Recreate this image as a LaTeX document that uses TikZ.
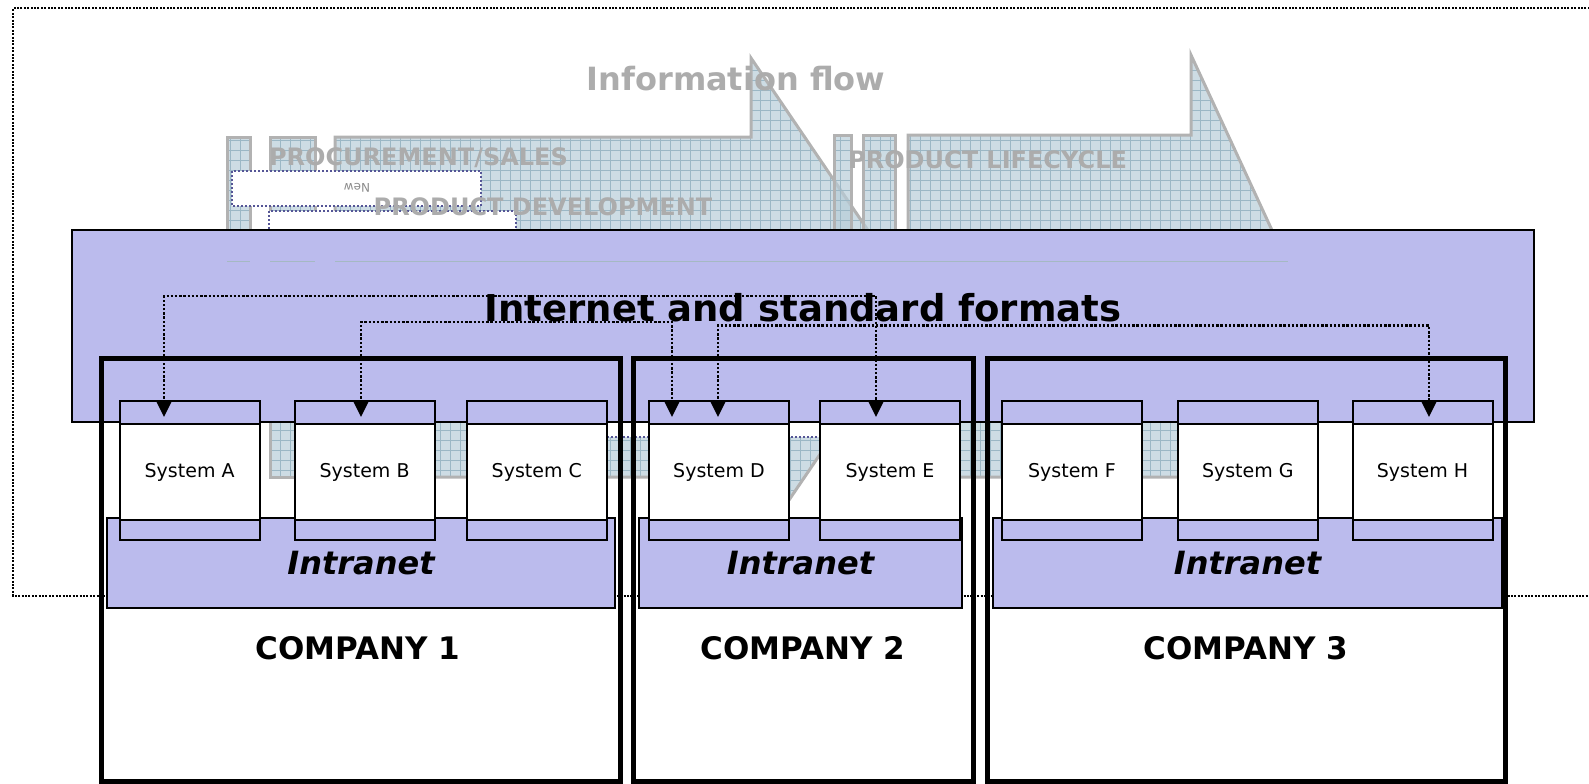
\documentclass[tikz,border=0pt]{standalone}
\usepackage{fontspec}
\setmainfont{DejaVu Sans}
\usetikzlibrary{arrows.meta,calc}

\definecolor{netfill}{RGB}{187,187,237}
\definecolor{hatchfill}{RGB}{184,205,216}
\definecolor{gridcol}{RGB}{155,183,197}
\definecolor{shapeedge}{RGB}{178,178,178}
\definecolor{ghosttext}{RGB}{172,172,172}
\definecolor{newedge}{RGB}{85,85,150}
\definecolor{newtext}{RGB}{140,140,140}
\definecolor{faintline}{RGB}{165,185,195}

% one light, gridded flow shape with its grey outline
\newcommand\flowshape[1]{%
  \fill[hatchfill, fill opacity=0.7] #1;
  \begin{scope}
    \clip #1;
    \draw[gridcol, line width=0.45pt, step=5pt] (200,580) grid (1320,40);
  \end{scope}
  \draw[shapeedge, line width=1.5pt] #1;
}

\begin{document}
\begin{tikzpicture}[x=0.5pt, y=-0.5pt,
  framedot/.style={black, line width=1.1pt, dash pattern=on 1pt off 0.7pt},
  newbox/.style={draw=newedge, fill=white, line width=1.1pt, dash pattern=on 1pt off 1pt},
  ghost/.style={text=ghosttext, inner sep=0pt, anchor=base},
  netbox/.style={draw=black, line width=1pt, fill=netfill, minimum width=731pt, minimum height=95.85pt, inner sep=0pt},
  sysframe/.style={draw=black, line width=1pt, fill=netfill, minimum width=70pt, minimum height=69.5pt, inner sep=0pt},
  syscore/.style={draw=black, line width=1pt, fill=white, minimum width=70pt, minimum height=48pt, inner sep=0pt, font=\fontsize{9.5}{11}\selectfont},
  intranet/.style={draw=black, line width=1pt, fill=netfill, minimum height=45pt, inner sep=0pt, font=\fontsize{16}{19}\selectfont\bfseries\itshape},
  company/.style={draw=black, line width=2.5pt, minimum height=211.25pt, inner sep=0pt},
  complabel/.style={font=\fontsize{15.5}{18}\selectfont\bfseries, inner sep=0pt},
  link/.style={black, line width=1.4pt, dash pattern=on 1.2pt off 0.9pt,
    {Triangle[width=7pt,length=7.5pt]}-{Triangle[width=7pt,length=7.5pt]}}
]
\useasboundingbox (0,0) rectangle (1589,783);

% outer dotted frame, open to the right
\draw[framedot] (1600,8.3) -- (13.3,8.3) -- (13.3,596) -- (1600,596);

% information flow shapes behind everything
\flowshape{(227,137) rectangle (250,477)}
\flowshape{(270,137) rectangle (315,477)}
\flowshape{(335,137) -- (751,137) -- (751,58) -- (920,307) -- (751,556) -- (751,477) -- (335,477) -- cycle}
\flowshape{(834,135) rectangle (851,477)}
\flowshape{(863,135) rectangle (895,477)}
\flowshape{(908,135) -- (1191,135) -- (1191,55) -- (1307,306) -- (1191,557) -- (1191,477) -- (908,477) -- cycle}

% dotted "new" boxes
\draw[newbox] (520,300) rectangle (890,437);
\draw[newbox] (269,211) rectangle (516,330);
\draw[newbox] (232,171) rectangle (481,206);
\node[rotate=180, text=newtext, font=\fontsize{6}{7}\selectfont, inner sep=0pt] (newlbl) at (357,188) {New};

% grey flow labels
\node[ghost, font=\fontsize{16}{19}\selectfont\bfseries] (infoflow) at (736,90) {Information flow};
\node[ghost, font=\fontsize{12}{14}\selectfont\bfseries] (procure) at (418.5,165) {PROCUREMENT/SALES};
\node[ghost, font=\fontsize{12}{14}\selectfont\bfseries] (proddev) at (543,215) {PRODUCT DEVELOPMENT};
\node[ghost, font=\fontsize{12}{14}\selectfont\bfseries] (lifecycle) at (987.6,168) {PRODUCT LIFECYCLE};

% internet layer
\node[netbox] (net) at (803,325.85) {};
\draw[faintline, line width=0.4pt] (227,261.5) -- (250,261.5) (270,261.5) -- (315,261.5) (335,261.5) -- (1288,261.5);
\node[font=\fontsize{18.5}{22}\selectfont\bfseries, anchor=base, inner sep=0pt] (nettitle) at (803,321) {Internet and standard formats};

% intranets
\node[intranet, minimum width=254pt] (in1) at (361,563) {Intranet};
\node[intranet, minimum width=161.5pt] (in2) at (800.5,563) {Intranet};
\node[intranet, minimum width=254.5pt] (in3) at (1247.5,563) {Intranet};

% systems
\foreach \nm/\lx in {A/119.6, B/294.6, C/466.8, D/649, E/820, F/1002, G/1177.8, H/1352.5}{
  \node[sysframe] (s\nm) at (\lx+70,470.5) {};
  \node[syscore] (s\nm in) at (\lx+70,472) {System \nm};
}

% companies
\node[company, minimum width=259.5pt] (c1) at (360.5,569.75) {};
\node[company, minimum width=170pt] (c2) at (803,569.75) {};
\node[company, minimum width=258.75pt] (c3) at (1246.25,569.75) {};
\node[complabel] (c1lbl) at (357.7,648) {COMPANY 1};
\node[complabel] (c2lbl) at (803,648) {COMPANY 2};
\node[complabel] (c3lbl) at (1246,648) {COMPANY 3};

% exchange links over the internet layer
\coordinate (tA) at ($(sA.north west)+(45.4,17)$);
\coordinate (tB) at ($(sB.north west)+(67.4,17)$);
\coordinate (tD1) at ($(sD.north west)+(24,17)$);
\coordinate (tD2) at ($(sD.north west)+(70,17)$);
\coordinate (tE) at ($(sE.north west)+(57,17)$);
\coordinate (tH) at ($(sH.north west)+(77.5,17)$);
\coordinate (busAE) at (0,296);
\coordinate (busBD) at (0,322);
\coordinate (busDH) at (0,325.5);
\draw[link] (tA) -- (tA |- busAE) -| (tE);
\draw[link] (tB) -- (tB |- busBD) -| (tD1);
\draw[link] (tD2) -- (tD2 |- busDH) -| (tH);
\end{tikzpicture}
\end{document}
